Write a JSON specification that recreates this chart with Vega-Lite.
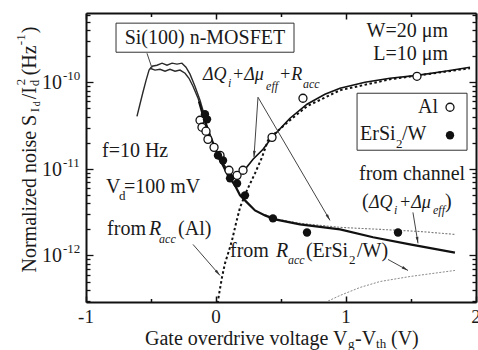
{
  "$schema": "https://vega.github.io/schema/vega-lite/v6.json",
  "width": 390,
  "height": 289,
  "autosize": "none",
  "padding": {"left": 86, "top": 13, "right": 2, "bottom": 48},
  "background": "white",
  "config": {"view": {"stroke": null}, "font": "Liberation Serif"},
  "resolve": {"axis": {"x": "independent", "y": "independent"}},
  "encoding": {
    "x": {"field": "x", "type": "quantitative", "scale": {"domain": [-1, 2], "nice": false, "zero": false}, "axis": null},
    "y": {"field": "y", "type": "quantitative", "scale": {"type": "log", "domain": [2.9e-13, 6.3e-10], "nice": false}, "axis": null}
  },
  "datasets": {
    "measA": [
      {"x": -0.608, "y": 4.04e-11}, {"x": -0.585, "y": 5.57e-11}, {"x": -0.562, "y": 7.66e-11}, {"x": -0.538, "y": 1.05e-10},
      {"x": -0.515, "y": 1.38e-10}, {"x": -0.492, "y": 1.53e-10}, {"x": -0.454, "y": 1.57e-10}, {"x": -0.415, "y": 1.66e-10},
      {"x": -0.377, "y": 1.57e-10}, {"x": -0.338, "y": 1.66e-10}, {"x": -0.3, "y": 1.62e-10}, {"x": -0.262, "y": 1.66e-10},
      {"x": -0.231, "y": 1.49e-10}, {"x": -0.2, "y": 1.24e-10}, {"x": -0.162, "y": 8.99e-11}, {"x": -0.123, "y": 6.19e-11},
      {"x": -0.085, "y": 3.94e-11}
    ],
    "measB": [
      {"x": -0.508, "y": 1.45e-10}, {"x": -0.469, "y": 1.38e-10}, {"x": -0.431, "y": 1.41e-10}, {"x": -0.392, "y": 1.34e-10},
      {"x": -0.354, "y": 1.41e-10}, {"x": -0.315, "y": 1.34e-10}, {"x": -0.277, "y": 1.38e-10}, {"x": -0.238, "y": 1.27e-10},
      {"x": -0.208, "y": 1.11e-10}, {"x": -0.177, "y": 8.99e-11}, {"x": -0.138, "y": 6.53e-11}, {"x": -0.1, "y": 4.38e-11},
      {"x": -0.069, "y": 2.94e-11}
    ],
    "thick": [
      {"x": -0.131, "y": 6.0e-11}, {"x": -0.1, "y": 4.15e-11}, {"x": -0.046, "y": 2.44e-11}, {"x": 0.015, "y": 1.43e-11},
      {"x": 0.092, "y": 8.41e-12}, {"x": 0.146, "y": 6.44e-12}, {"x": 0.185, "y": 4.94e-12}, {"x": 0.238, "y": 4.1e-12},
      {"x": 0.3, "y": 3.31e-12}, {"x": 0.377, "y": 2.9e-12}, {"x": 0.454, "y": 2.61e-12}, {"x": 0.646, "y": 2.28e-12},
      {"x": 0.954, "y": 2.0e-12}, {"x": 1.208, "y": 1.62e-12}, {"x": 1.492, "y": 1.34e-12}, {"x": 1.838, "y": 1.08e-12}
    ],
    "alfit": [
      {"x": 0.015, "y": 1.43e-11}, {"x": 0.069, "y": 1.07e-11}, {"x": 0.092, "y": 9.12e-12}, {"x": 0.138, "y": 8.18e-12},
      {"x": 0.185, "y": 8.63e-12}, {"x": 0.223, "y": 9.86e-12}, {"x": 0.285, "y": 1.29e-11}, {"x": 0.362, "y": 1.68e-11},
      {"x": 0.431, "y": 2.31e-11}, {"x": 0.569, "y": 3.84e-11}, {"x": 0.7, "y": 5.57e-11}, {"x": 0.838, "y": 7.26e-11},
      {"x": 0.954, "y": 8.53e-11}, {"x": 1.146, "y": 1.0e-10}, {"x": 1.338, "y": 1.11e-10}, {"x": 1.546, "y": 1.2e-10},
      {"x": 1.762, "y": 1.34e-10}, {"x": 1.954, "y": 1.49e-10}
    ],
    "raccAl": [
      {"x": 0.012, "y": 2.8e-13}, {"x": 0.031, "y": 4.15e-13}, {"x": 0.046, "y": 5.57e-13}, {"x": 0.069, "y": 8.09e-13},
      {"x": 0.1, "y": 1.14e-12}, {"x": 0.123, "y": 1.49e-12}, {"x": 0.154, "y": 2.35e-12}, {"x": 0.185, "y": 3.59e-12},
      {"x": 0.238, "y": 5.64e-12}, {"x": 0.3, "y": 8.87e-12}, {"x": 0.354, "y": 1.36e-11}, {"x": 0.4, "y": 2.13e-11},
      {"x": 0.454, "y": 2.57e-11}, {"x": 0.569, "y": 3.64e-11}, {"x": 0.7, "y": 5.28e-11}, {"x": 0.954, "y": 8.09e-11},
      {"x": 1.338, "y": 1.08e-10}, {"x": 1.954, "y": 1.45e-10}
    ],
    "erTot": [
      {"x": 0.377, "y": 2.95e-12}, {"x": 0.454, "y": 2.65e-12}, {"x": 0.646, "y": 2.35e-12}, {"x": 0.954, "y": 2.11e-12},
      {"x": 1.262, "y": 2.0e-12}, {"x": 1.569, "y": 1.89e-12}, {"x": 1.838, "y": 1.75e-12}
    ],
    "raccEr": [
      {"x": 0.838, "y": 2.86e-13}, {"x": 0.954, "y": 3.45e-13}, {"x": 1.108, "y": 4.27e-13}, {"x": 1.262, "y": 5.0e-13},
      {"x": 1.492, "y": 5.71e-13}, {"x": 1.838, "y": 6.71e-13}
    ],
    "alPts": [
      {"x": -0.123, "y": 3.64e-11}, {"x": -0.108, "y": 3.02e-11}, {"x": -0.077, "y": 2.72e-11}, {"x": -0.062, "y": 2.19e-11},
      {"x": -0.015, "y": 1.77e-11}, {"x": 0.031, "y": 1.43e-11}, {"x": 0.1, "y": 9.63e-12}, {"x": 0.162, "y": 8.41e-12},
      {"x": 0.208, "y": 9.63e-12}, {"x": 0.431, "y": 2.31e-11}, {"x": 0.669, "y": 6.53e-11}, {"x": 1.546, "y": 1.17e-10}
    ],
    "erPts": [
      {"x": -0.085, "y": 4.27e-11}, {"x": -0.069, "y": 3.73e-11}, {"x": 0.015, "y": 1.43e-11}, {"x": 0.054, "y": 1.25e-11},
      {"x": 0.108, "y": 7.76e-12}, {"x": 0.162, "y": 6.79e-12}, {"x": 0.223, "y": 4.94e-12}, {"x": 0.438, "y": 2.68e-12},
      {"x": 0.7, "y": 1.84e-12}, {"x": 1.4, "y": 1.84e-12}
    ],
    "legOpen": [{"x": 1.8, "y": 5.14e-11}],
    "legFilled": [{"x": 1.8, "y": 2.44e-11}],
    "boxes": [
      {"x": -0.769, "x2": 0.6, "y": 2.22e-10, "y2": 4.81e-10},
      {"x": 1.085, "x2": 1.931, "y": 1.64e-11, "y2": 7.46e-11}
    ],
    "arrows": [
      {"x": -0.531, "y": 2.16e-10, "x2": -0.492, "y2": 1.45e-10},
      {"x": 0.323, "y": 6.71e-11, "x2": 0.292, "y2": 1.36e-11},
      {"x": 0.323, "y": 6.71e-11, "x2": 0.877, "y2": 2.54e-12},
      {"x": -0.177, "y": 1.34e-12, "x2": 0.031, "y2": 5.87e-13},
      {"x": 1.323, "y": 8.99e-13, "x2": 1.477, "y2": 6.71e-13},
      {"x": 1.515, "y": 3.14e-12, "x2": 1.554, "y2": 1.38e-12}
    ],
    "tMain": [
      {"t": "f=10 Hz", "x": -0.877, "y": 1.36e-11},
      {"t": "V", "x": -0.846, "y": 5.21e-12},
      {"t": "=100 mV", "x": -0.708, "y": 5.21e-12},
      {"t": "from", "x": -0.838, "y": 1.7e-12},
      {"t": "(Al)", "x": -0.292, "y": 1.7e-12},
      {"t": "from", "x": 0.108, "y": 9.48e-13},
      {"t": "(ErSi", "x": 0.692, "y": 9.48e-13},
      {"t": "/W)", "x": 1.085, "y": 9.48e-13},
      {"t": "ErSi", "x": 1.108, "y": 2.13e-11},
      {"t": "/W", "x": 1.431, "y": 2.13e-11},
      {"t": "(", "x": 1.123, "y": 3.49e-12},
      {"t": ")", "x": 1.762, "y": 3.49e-12}
    ],
    "tItal": [
      {"t": "R", "x": -0.515, "y": 1.7e-12},
      {"t": "R", "x": 0.462, "y": 9.48e-13}
    ],
    "tItal18": [
      {"t": "ΔQ", "x": -0.1, "y": 1.05e-10},
      {"t": "+Δμ", "x": 0.123, "y": 1.05e-10},
      {"t": "+R", "x": 0.485, "y": 1.05e-10},
      {"t": "ΔQ", "x": 1.177, "y": 3.49e-12},
      {"t": "+Δμ", "x": 1.408, "y": 3.49e-12}
    ],
    "tSubI": [
      {"t": "i", "x": 0.092, "y": 8.75e-11},
      {"t": "eff", "x": 0.385, "y": 8.08e-11},
      {"t": "acc", "x": 0.669, "y": 8.53e-11},
      {"t": "acc", "x": -0.438, "y": 1.41e-12},
      {"t": "acc", "x": 0.554, "y": 7.87e-13},
      {"t": "i", "x": 1.369, "y": 2.98e-12},
      {"t": "eff", "x": 1.669, "y": 2.98e-12}
    ],
    "tSub": [
      {"t": "d", "x": -0.746, "y": 4.33e-12},
      {"t": "2", "x": 1.023, "y": 7.87e-13},
      {"t": "2", "x": 1.385, "y": 1.73e-11}
    ],
    "tCenter": [
      {"t": "Si(100) n-MOSFET", "x": -0.085, "y": 2.75e-10},
      {"t": "from channel", "x": 1.508, "y": 7.36e-12}
    ],
    "tRight": [
      {"t": "W=20 μm", "x": 1.785, "y": 3.31e-10},
      {"t": "L=10 μm", "x": 1.785, "y": 1.8e-10},
      {"t": "Al", "x": 1.708, "y": 4.38e-11},
      {"t": "10", "x": -1.185, "y": 8.3e-11},
      {"t": "10", "x": -1.185, "y": 8.3e-12},
      {"t": "10", "x": -1.185, "y": 8.3e-13}
    ],
    "tSup": [
      {"t": "-10", "x": -1.177, "y": 1.055e-10},
      {"t": "-11", "x": -1.177, "y": 1.055e-11},
      {"t": "-12", "x": -1.177, "y": 1.055e-12}
    ],
    "tXtick": [
      {"t": "-1", "x": -1, "y": 1.64e-13},
      {"t": "0", "x": 0, "y": 1.64e-13},
      {"t": "1", "x": 1, "y": 1.64e-13},
      {"t": "2", "x": 2, "y": 1.64e-13}
    ],
    "xTitleMain": [
      {"t": "Gate overdrive voltage V", "x": -0.546, "y": 9.35e-14},
      {"t": "-V", "x": 1.069, "y": 9.35e-14},
      {"t": "(V)", "x": 1.346, "y": 9.35e-14}
    ],
    "xTitleSub": [
      {"t": "g", "x": 1.015, "y": 8.5e-14},
      {"t": "th", "x": 1.231, "y": 8.5e-14}
    ],
    "yTitleMain": [
      {"t": "Normalized noise S", "x": -1.385, "y": 6.35e-13},
      {"t": "/I", "x": -1.385, "y": 6.36e-11},
      {"t": "(Hz", "x": -1.385, "y": 1.2e-10},
      {"t": ")", "x": -1.385, "y": 3.68e-10}
    ],
    "yTitleSub": [
      {"t": "I", "x": -1.365, "y": 4.5e-11},
      {"t": "d", "x": -1.365, "y": 8.99e-11}
    ],
    "yTitleSubSub": [
      {"t": "d", "x": -1.354, "y": 5.28e-11}
    ],
    "yTitleSup": [
      {"t": "2", "x": -1.469, "y": 9.23e-11},
      {"t": "-1", "x": -1.469, "y": 2.68e-10}
    ]
  },
  "layer": [
    {
      "data": {"name": "measA"},
      "mark": {"type": "line", "clip": true, "color": "#2a2a2a", "strokeWidth": 1.4},
      "encoding": {}
    },
    {
      "data": {"name": "measB"},
      "mark": {"type": "line", "clip": true, "color": "#2a2a2a", "strokeWidth": 1.4},
      "encoding": {}
    },
    {
      "data": {"name": "raccEr"},
      "mark": {"type": "line", "clip": true, "color": "#8a8a8a", "strokeWidth": 1, "strokeDash": [2, 1.5]},
      "encoding": {}
    },
    {
      "data": {"name": "erTot"},
      "mark": {"type": "line", "clip": true, "color": "#7a7a7a", "strokeWidth": 1.1, "strokeDash": [2, 1.5]},
      "encoding": {}
    },
    {
      "data": {"name": "raccAl"},
      "mark": {"type": "line", "clip": true, "color": "#111", "strokeWidth": 2, "strokeDash": [2.5, 2.5]},
      "encoding": {}
    },
    {
      "data": {"name": "thick"},
      "mark": {"type": "line", "clip": true, "color": "#111", "strokeWidth": 2.2},
      "encoding": {
        "x": {"field": "x", "type": "quantitative", "scale": {"domain": [-1, 2], "nice": false, "zero": false},
          "axis": {"orient": "bottom", "values": [-1, -0.5, 0, 0.5, 1, 1.5, 2], "labels": false, "title": null, "grid": false,
            "domainColor": "#111", "domainWidth": 2, "tickColor": "#111", "tickWidth": 1.5,
            "tickSize": {"condition": {"test": "datum.value % 1 == 0", "value": -6}, "value": -3.5}}},
        "y": {"field": "y", "type": "quantitative", "scale": {"type": "log", "domain": [2.9e-13, 6.3e-10], "nice": false},
          "axis": {"orient": "left", "values": [3e-13, 4e-13, 5e-13, 6e-13, 7e-13, 8e-13, 9e-13, 1e-12, 2e-12, 3e-12, 4e-12, 5e-12, 6e-12, 7e-12, 8e-12, 9e-12, 1e-11, 2e-11, 3e-11, 4e-11, 5e-11, 6e-11, 7e-11, 8e-11, 9e-11, 1e-10, 2e-10, 3e-10, 4e-10, 5e-10, 6e-10],
            "labels": false, "title": null, "grid": false,
            "domainColor": "#111", "domainWidth": 2, "tickColor": "#111", "tickWidth": 1.3,
            "tickSize": {"condition": {"test": "abs(log(datum.value)/LN10 - round(log(datum.value)/LN10)) < 0.01", "value": -7}, "value": -4}}}
      }
    },
    {
      "data": {"name": "alfit"},
      "mark": {"type": "line", "clip": true, "color": "#111", "strokeWidth": 1.6},
      "encoding": {
        "x": {"field": "x", "type": "quantitative", "scale": {"domain": [-1, 2], "nice": false, "zero": false},
          "axis": {"orient": "top", "values": [-1, -0.5, 0, 0.5, 1, 1.5, 2], "labels": false, "title": null, "grid": false,
            "domainColor": "#111", "domainWidth": 2, "tickColor": "#111", "tickWidth": 1.5,
            "tickSize": {"condition": {"test": "datum.value % 1 == 0", "value": -6}, "value": -3.5}}},
        "y": {"field": "y", "type": "quantitative", "scale": {"type": "log", "domain": [2.9e-13, 6.3e-10], "nice": false},
          "axis": {"orient": "right", "values": [3e-13, 4e-13, 5e-13, 6e-13, 7e-13, 8e-13, 9e-13, 1e-12, 2e-12, 3e-12, 4e-12, 5e-12, 6e-12, 7e-12, 8e-12, 9e-12, 1e-11, 2e-11, 3e-11, 4e-11, 5e-11, 6e-11, 7e-11, 8e-11, 9e-11, 1e-10, 2e-10, 3e-10, 4e-10, 5e-10, 6e-10],
            "labels": false, "title": null, "grid": false,
            "domainColor": "#111", "domainWidth": 2, "tickColor": "#111", "tickWidth": 1.3,
            "tickSize": {"condition": {"test": "abs(log(datum.value)/LN10 - round(log(datum.value)/LN10)) < 0.01", "value": -7}, "value": -4}}}
      }
    },
    {
      "data": {"name": "arrows"},
      "mark": {"type": "rule", "color": "#444", "strokeWidth": 1},
      "encoding": {"x2": {"field": "x2"}, "y2": {"field": "y2"}}
    },
    {"data": {"values": [{"x": 0.292, "y": 1.36e-11}]}, "mark": {"type": "point", "shape": "M0,0L0.35,1.6L-0.35,1.6Z", "size": 64, "filled": true, "color": "#333", "opacity": 1, "angle": 184}, "encoding": {}},
    {"data": {"values": [{"x": 0.877, "y": 2.54e-12}]}, "mark": {"type": "point", "shape": "M0,0L0.35,1.6L-0.35,1.6Z", "size": 64, "filled": true, "color": "#333", "opacity": 1, "angle": 150}, "encoding": {}},
    {"data": {"values": [{"x": 0.031, "y": 5.87e-13}]}, "mark": {"type": "point", "shape": "M0,0L0.35,1.6L-0.35,1.6Z", "size": 64, "filled": true, "color": "#333", "opacity": 1, "angle": 139}, "encoding": {}},
    {"data": {"values": [{"x": 1.477, "y": 6.71e-13}]}, "mark": {"type": "point", "shape": "M0,0L0.35,1.6L-0.35,1.6Z", "size": 64, "filled": true, "color": "#333", "opacity": 1, "angle": 119}, "encoding": {}},
    {"data": {"values": [{"x": 1.554, "y": 1.38e-12}]}, "mark": {"type": "point", "shape": "M0,0L0.35,1.6L-0.35,1.6Z", "size": 64, "filled": true, "color": "#333", "opacity": 1, "angle": 171}, "encoding": {}},
    {
      "data": {"name": "boxes"},
      "mark": {"type": "rect", "fill": "white", "fillOpacity": 0, "stroke": "#333", "strokeWidth": 1},
      "encoding": {"x2": {"field": "x2"}, "y2": {"field": "y2"}}
    },
    {
      "data": {"name": "alPts"},
      "mark": {"type": "point", "shape": "circle", "size": 64, "filled": true, "fill": "white", "stroke": "#111", "strokeWidth": 1.3, "opacity": 1},
      "encoding": {}
    },
    {
      "data": {"name": "legOpen"},
      "mark": {"type": "point", "shape": "circle", "size": 64, "filled": true, "fill": "white", "stroke": "#111", "strokeWidth": 1.3, "opacity": 1},
      "encoding": {}
    },
    {
      "data": {"name": "erPts"},
      "mark": {"type": "point", "shape": "circle", "size": 70, "filled": true, "color": "#111", "opacity": 1},
      "encoding": {}
    },
    {
      "data": {"name": "legFilled"},
      "mark": {"type": "point", "shape": "circle", "size": 70, "filled": true, "color": "#111", "opacity": 1},
      "encoding": {}
    },
    {
      "data": {"name": "tMain"},
      "mark": {"type": "text", "align": "left", "baseline": "alphabetic", "fontSize": 20, "color": "#1a1a1a"},
      "encoding": {"text": {"field": "t", "type": "nominal"}}
    },
    {
      "data": {"name": "tItal"},
      "mark": {"type": "text", "align": "left", "baseline": "alphabetic", "fontSize": 20, "fontStyle": "italic", "color": "#1a1a1a"},
      "encoding": {"text": {"field": "t", "type": "nominal"}}
    },
    {
      "data": {"name": "tItal18"},
      "mark": {"type": "text", "align": "left", "baseline": "alphabetic", "fontSize": 18, "fontStyle": "italic", "color": "#1a1a1a"},
      "encoding": {"text": {"field": "t", "type": "nominal"}}
    },
    {
      "data": {"name": "tSubI"},
      "mark": {"type": "text", "align": "left", "baseline": "alphabetic", "fontSize": 12, "fontStyle": "italic", "color": "#1a1a1a"},
      "encoding": {"text": {"field": "t", "type": "nominal"}}
    },
    {
      "data": {"name": "tSub"},
      "mark": {"type": "text", "align": "left", "baseline": "alphabetic", "fontSize": 13, "color": "#1a1a1a"},
      "encoding": {"text": {"field": "t", "type": "nominal"}}
    },
    {
      "data": {"name": "tCenter"},
      "mark": {"type": "text", "align": "center", "baseline": "alphabetic", "fontSize": 20, "color": "#1a1a1a"},
      "encoding": {"text": {"field": "t", "type": "nominal"}}
    },
    {
      "data": {"name": "tRight"},
      "mark": {"type": "text", "align": "right", "baseline": "alphabetic", "fontSize": 20, "color": "#1a1a1a"},
      "encoding": {"text": {"field": "t", "type": "nominal"}}
    },
    {
      "data": {"name": "tSup"},
      "mark": {"type": "text", "align": "left", "baseline": "alphabetic", "fontSize": 13, "color": "#1a1a1a"},
      "encoding": {"text": {"field": "t", "type": "nominal"}}
    },
    {
      "data": {"name": "tXtick"},
      "mark": {"type": "text", "align": "center", "baseline": "alphabetic", "fontSize": 19, "color": "#1a1a1a"},
      "encoding": {"text": {"field": "t", "type": "nominal"}}
    },
    {
      "data": {"name": "xTitleMain"},
      "mark": {"type": "text", "align": "left", "baseline": "alphabetic", "fontSize": 20, "color": "#1a1a1a"},
      "encoding": {"text": {"field": "t", "type": "nominal"}}
    },
    {
      "data": {"name": "xTitleSub"},
      "mark": {"type": "text", "align": "left", "baseline": "alphabetic", "fontSize": 13, "color": "#1a1a1a"},
      "encoding": {"text": {"field": "t", "type": "nominal"}}
    },
    {
      "data": {"name": "yTitleMain"},
      "mark": {"type": "text", "align": "left", "baseline": "alphabetic", "angle": 270, "fontSize": 20, "color": "#1a1a1a"},
      "encoding": {"text": {"field": "t", "type": "nominal"}}
    },
    {
      "data": {"name": "yTitleSub"},
      "mark": {"type": "text", "align": "left", "baseline": "alphabetic", "angle": 270, "fontSize": 13, "color": "#1a1a1a"},
      "encoding": {"text": {"field": "t", "type": "nominal"}}
    },
    {
      "data": {"name": "yTitleSubSub"},
      "mark": {"type": "text", "align": "left", "baseline": "alphabetic", "angle": 270, "fontSize": 10, "color": "#1a1a1a"},
      "encoding": {"text": {"field": "t", "type": "nominal"}}
    },
    {
      "data": {"name": "yTitleSup"},
      "mark": {"type": "text", "align": "left", "baseline": "alphabetic", "angle": 270, "fontSize": 13, "color": "#1a1a1a"},
      "encoding": {"text": {"field": "t", "type": "nominal"}}
    }
  ]
}
